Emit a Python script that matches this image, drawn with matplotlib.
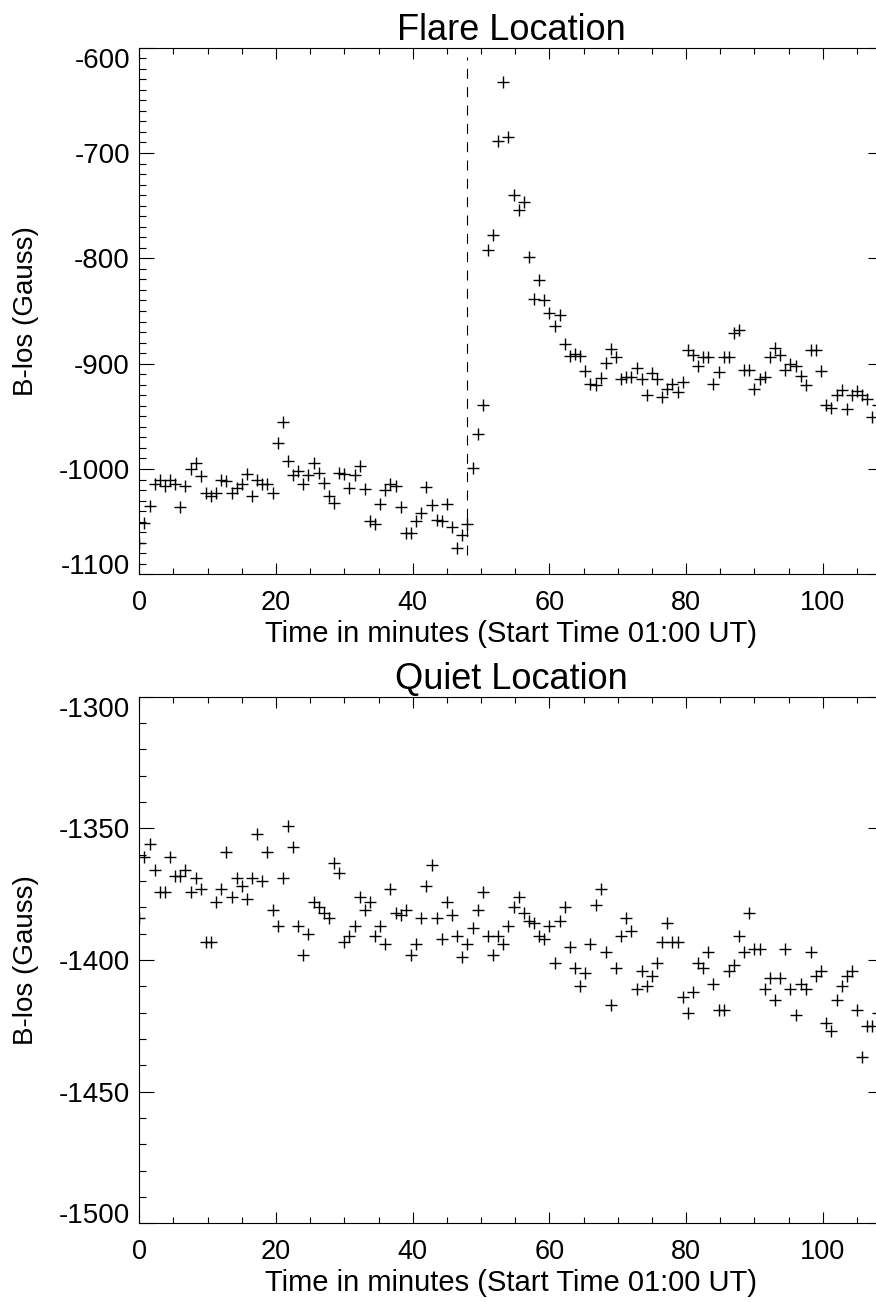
import matplotlib
matplotlib.use('Agg')
import matplotlib.pyplot as plt
from matplotlib.ticker import MultipleLocator

plt.rcParams['font.family'] = ['Liberation Sans', 'DejaVu Sans']
plt.rcParams['lines.scale_dashes'] = False
plt.rcParams['axes.unicode_minus'] = False

# time axis, 45 s cadence (minutes after 01:00 UT)
time_min = [
    0.0, 0.75, 1.5, 2.25, 3.0, 3.75, 4.5, 5.25, 6.0, 6.75,
    7.5, 8.25, 9.0, 9.75, 10.5, 11.25, 12.0, 12.75, 13.5, 14.25,
    15.0, 15.75, 16.5, 17.25, 18.0, 18.75, 19.5, 20.25, 21.0, 21.75,
    22.5, 23.25, 24.0, 24.75, 25.5, 26.25, 27.0, 27.75, 28.5, 29.25,
    30.0, 30.75, 31.5, 32.25, 33.0, 33.75, 34.5, 35.25, 36.0, 36.75,
    37.5, 38.25, 39.0, 39.75, 40.5, 41.25, 42.0, 42.75, 43.5, 44.25,
    45.0, 45.75, 46.5, 47.25, 48.0, 48.75, 49.5, 50.25, 51.0, 51.75,
    52.5, 53.25, 54.0, 54.75, 55.5, 56.25, 57.0, 57.75, 58.5, 59.25,
    60.0, 60.75, 61.5, 62.25, 63.0, 63.75, 64.5, 65.25, 66.0, 66.75,
    67.5, 68.25, 69.0, 69.75, 70.5, 71.25, 72.0, 72.75, 73.5, 74.25,
    75.0, 75.75, 76.5, 77.25, 78.0, 78.75, 79.5, 80.25, 81.0, 81.75,
    82.5, 83.25, 84.0, 84.75, 85.5, 86.25, 87.0, 87.75, 88.5, 89.25,
    90.0, 90.75, 91.5, 92.25, 93.0, 93.75, 94.5, 95.25, 96.0, 96.75,
    97.5, 98.25, 99.0, 99.75, 100.5, 101.25, 102.0, 102.75, 103.5, 104.25,
    105.0, 105.75, 106.5, 107.25, 108.0,
]

flare_blos = [
    -1070, -1051, -1035, -1014, -1010, -1016, -1010, -1014, -1036, -1016,
    -1000, -994, -1007, -1023, -1026, -1023, -1010, -1011, -1023, -1018,
    -1014, -1005, -1026, -1010, -1014, -1014, -1023, -975, -955, -992,
    -1006, -1002, -1014, -1006, -994, -1004, -1013, -1026, -1032, -1004,
    -1005, -1018, -1006, -997, -1019, -1049, -1052, -1033, -1020, -1014,
    -1016, -1036, -1061, -1061, -1049, -1042, -1017, -1034, -1048, -1049,
    -1033, -1055, -1075, -1063, -1052, -999, -967, -939, -792, -778,
    -689, -633, -685, -740, -754, -747, -799, -839, -821, -840,
    -852, -864, -854, -881, -893, -891, -893, -907, -919, -920,
    -914, -899, -886, -894, -915, -913, -913, -904, -915, -930,
    -909, -915, -932, -924, -919, -927, -917, -887, -892, -902,
    -894, -894, -919, -908, -894, -894, -871, -868, -906, -906,
    -924, -915, -913, -894, -885, -892, -906, -900, -902, -912,
    -920, -887, -887, -907, -939, -942, -930, -925, -943, -930,
    -926, -930, -934, -951, -939,
]

quiet_blos = [
    -1384, -1361, -1356, -1366, -1374, -1374, -1361, -1368, -1368, -1366,
    -1374, -1369, -1373, -1393, -1393, -1378, -1373, -1359, -1376, -1369,
    -1372, -1377, -1369, -1352, -1370, -1359, -1381, -1387, -1369, -1349,
    -1357, -1387, -1398, -1390, -1378, -1380, -1382, -1384, -1363, -1367,
    -1393, -1391, -1387, -1376, -1381, -1378, -1391, -1387, -1394, -1373,
    -1382, -1383, -1381, -1398, -1394, -1384, -1372, -1364, -1384, -1392,
    -1378, -1383, -1391, -1399, -1394, -1388, -1381, -1374, -1391, -1398,
    -1391, -1394, -1387, -1380, -1376, -1382, -1385, -1386, -1391, -1392,
    -1387, -1401, -1385, -1380, -1395, -1403, -1410, -1405, -1394, -1379,
    -1373, -1397, -1417, -1403, -1391, -1384, -1389, -1411, -1404, -1410,
    -1406, -1401, -1393, -1386, -1393, -1393, -1414, -1420, -1412, -1401,
    -1403, -1397, -1409, -1419, -1419, -1404, -1402, -1391, -1397, -1382,
    -1396, -1396, -1411, -1407, -1415, -1407, -1396, -1411, -1421, -1409,
    -1411, -1397, -1406, -1404, -1424, -1427, -1415, -1410, -1406, -1404,
    -1419, -1437, -1425, -1425, -1420,
]

flare_start = 48
flare_ticks = [-1100, -1000, -900, -800, -700, -600]
quiet_ticks = [-1500, -1450, -1400, -1350, -1300]
x_ticks = [0, 20, 40, 60, 80, 100]

fig = plt.figure(figsize=(8.76, 13.02), dpi=100)
ax1 = fig.add_axes([0.159, 0.5589, 0.849, 0.4045])
ax2 = fig.add_axes([0.159, 0.0604, 0.849, 0.4045])


def style(ax, yticks, yminor, title):
    ax.set_xlim(0, 108.8)
    ax.set_ylim(yticks[0], yticks[-1])
    ax.set_xticks(x_ticks)
    ax.xaxis.set_minor_locator(MultipleLocator(5))
    ax.set_yticks(yticks)
    ax.yaxis.set_minor_locator(MultipleLocator(yminor))
    for s in ax.spines.values():
        s.set_linewidth(0.8)
    ax.tick_params(which='both', direction='in', top=True, right=True,
                   width=0.8, color='black')
    ax.tick_params(axis='x', which='major', length=7.6, pad=11.5, labelsize=19.5)
    ax.tick_params(axis='x', which='minor', length=4.0)
    ax.tick_params(axis='y', which='major', length=10.8, pad=6.7, labelsize=20)
    ax.tick_params(axis='y', which='minor', length=5.3)
    ax.set_xlabel('Time in minutes (Start Time 01:00 UT)', fontsize=21, labelpad=3)
    ax.set_ylabel('B-los (Gauss)', fontsize=20, labelpad=14)
    ax.set_title(title, fontsize=26, pad=5)
    # end labels kept inside the axis range
    ticks = ax.yaxis.get_major_ticks()
    ticks[0].label1.set_va('baseline')
    ticks[-1].label1.set_va('top')


ax1.plot(time_min, flare_blos, '+', color='black', markersize=8, mew=1.0)
ax1.plot([flare_start, flare_start], [-1082, -609], color='black',
         lw=0.8, dashes=(7.2, 6.0))
style(ax1, flare_ticks, 10, 'Flare Location')

ax2.plot(time_min, quiet_blos, '+', color='black', markersize=8, mew=1.0)
style(ax2, quiet_ticks, 10, 'Quiet Location')

fig.savefig('out.png', dpi=100)
